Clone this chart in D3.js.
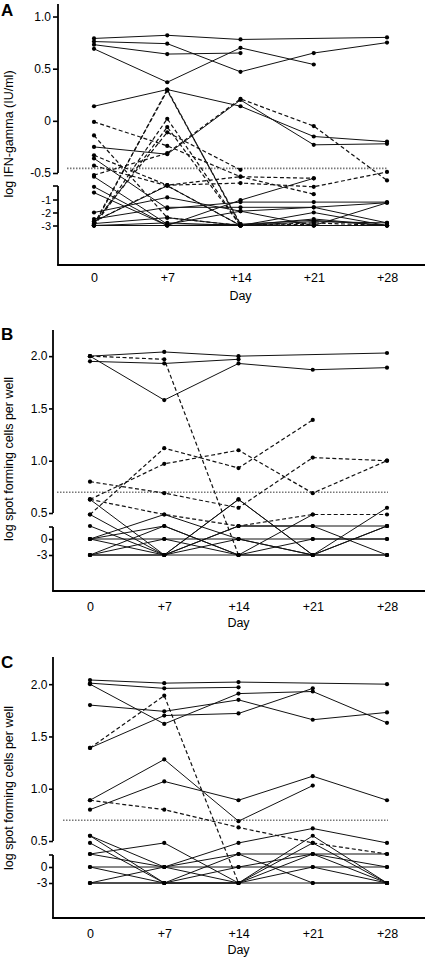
<!DOCTYPE html>
<html><head><meta charset="utf-8">
<script src="https://cdn.jsdelivr.net/npm/d3@7"></script>
<style>body{margin:0;background:#fff} text{font-family:Arial,"Liberation Sans",sans-serif}</style>
</head><body><svg id="c" width="425" height="958"></svg>
<script>
// ---------- DATA ----------
const days = [0, 7, 14, 21, 28];
const dayLabels = ["0", "+7", "+14", "+21", "+28"];

// Panel A: log IFN-gamma (IU/ml)
const seriesA = [
  [0.79, 0.82, 0.78, null, 0.80],
  [0.76, 0.74, 0.47, 0.65, 0.75],
  [0.73, 0.64, 0.65, null, null],
  [0.69, 0.37, 0.70, 0.54, null],
  [0.14, 0.30, 0.14, -0.15, -0.20],
  [-0.25, -0.32, 0.20, -0.23, -0.22],
  [-0.01, -0.24, -0.57, -0.9, null],
  [-0.14, -2.4, -3, null, null],
  [-3, 0.30, -3, -2.8, -3],
  [-2.9, 0.29, -2.9, null, null],
  [-3, 0.02, -3, -2.9, null],
  [-3, -0.06, -3, -3, -3],
  [-2.8, -0.11, -0.47, null, null],
  [-0.54, -0.31, 0.21, -0.05, -0.64],
  [-0.33, -0.73, -0.69, -0.76, -0.49],
  [-0.43, -0.74, -3, null, null],
  [-2.7, -0.73, -0.57, -0.6, null],
  [-0.36, -1.7, -1.2, -1.2, -1.2],
  [-0.76, -3, -1.05, -0.6, null],
  [-0.87, -3, -3, -2.0, -3],
  [-2.0, -0.96, -1.9, -1.6, -1.25],
  [-2.5, -1.6, -1.6, -1.6, -2.8],
  [-2.7, -0.74, -3, -2.5, -3],
  [-2.85, -2.4, -3, -2.7, -2.8],
  [-3, -3, -2.9, -2.6, -3],
  [-3, -2.8, -3, -3, -1.25],
  [-3, -3, -3, -3, -3],
  [-0.57, -2.9, -1.9, -3, null]
];
const dashedA = [0,0,0,0,0,0,1,1,1,1,1,1,1,1,1,1,1,0,0,0,0,0,0,0,0,0,0,0];
const yTicksA = [1.0, 0.5, 0, -0.5, -1, -2, -3];
const yTickLabelsA = ["1.0", "0.5", "0", "-0.5", "-1", "-2", "-3"];
const cutoffA = -0.456;

// Panel B: log spot forming cells per well
const seriesB = [
  [2.0, 2.04, 2.0, null, 2.03],
  [1.95, 1.93, 1.97, null, null],
  [2.0, 1.58, 1.93, 1.87, 1.89],
  [2.0, 1.97, -3, null, null],
  [0.477, 1.12, 0.93, 1.39, null],
  [0.63, 0.97, 1.10, 0.69, 1.0],
  [0.8, 0.69, 0.55, 1.03, 1.0],
  [0.63, 0.477, 0.3, 0.477, 0.477],
  [0.63, -3, 0.63, -3, null],
  [0.477, -3, 0.63, -3, 0.3],
  [0.3, -3, 0.3, 0.3, 0.3],
  [0, 0.477, 0, -3, -3],
  [0, 0.3, -3, 0.477, null],
  [0, 0, 0, 0, 0],
  [-3, 0.3, -3, 0, 0],
  [-3, 0, -3, -3, 0.55],
  [-3, -3, -3, -3, -3],
  [0, -3, 0.3, 0.3, -3],
  [-3, -3, 0, -3, 0.3]
];
const dashedB = [0,0,0,1,1,1,1,1,0,0,0,0,0,0,0,0,0,0,0];
const yTicksB = [2.0, 1.5, 1.0, 0.5, 0, -3];
const yTickLabelsB = ["2.0", "1.5", "1.0", "0.5", "0", "-3"];
const cutoffB = 0.699;

// Panel C: log spot forming cells per well
const seriesC = [
  [2.04, 2.01, 2.02, null, 2.0],
  [2.01, 1.96, 1.97, null, null],
  [2.0, 1.62, 1.91, 1.93, 1.63],
  [1.80, 1.74, 1.85, 1.66, 1.73],
  [1.39, 1.70, 1.72, 1.96, null],
  [1.39, 1.89, -3, null, null],
  [0.89, 1.28, 0.69, 1.03, null],
  [0.80, 1.07, 0.89, 1.12, 0.89],
  [0.89, 0.80, 0.63, 0.47, 0.3],
  [0.55, 0, 0.47, 0.62, 0.47],
  [0.55, -3, -3, 0.55, -3],
  [0.47, -3, 0, 0.3, -3],
  [0.3, 0.47, -3, 0.47, -3],
  [0.3, 0, 0.3, 0.3, 0.3],
  [0, 0, 0, 0, 0],
  [-3, 0, -3, 0.3, 0],
  [-3, -3, -3, -3, -3],
  [0, -3, -3, 0, -3],
  [-3, -3, 0.3, -3, -3]
];
const dashedC = [0,0,0,0,0,1,0,0,1,0,0,0,0,0,0,0,0,0,0];
const yTicksC = yTicksB;
const yTickLabelsC = yTickLabelsB;
const cutoffC = 0.699;

// ---------- LAYOUT ----------
const panels = [
  {letter:"A", letterY:15.5, series:seriesA, dashed:dashedA, ticks:yTicksA, tickLabels:yTickLabelsA, cutoff:cutoffA,
   title:"log IFN-gamma (IU/ml)", titleY:134,
   yDomain:[-6.2,-3,-2,-1,-0.5,1.12], yRange:[265,225.5,212.5,199.5,173,4], breakVal:-0.5, capGap:13,
   axisX:58, x0:94, x28:387, tickLen:5, tickPad:2, xLabOff:12.5, dayY:300, dotStart:67, smallBelow:-0.9},
  {letter:"B", letterY:340, series:seriesB, dashed:dashedB, ticks:yTicksB, tickLabels:yTickLabelsB, cutoff:cutoffB,
   title:"log spot forming cells per well", titleY:459,
   yDomain:[-9.75,-3,0,0.3,0.5,2.25], yRange:[591,555,539,526,513,330], breakVal:0.5, capGap:14,
   axisX:53, x0:90, x28:387, tickLen:4, tickPad:1.5, xLabOff:15.7, dayY:627, dotStart:57, smallBelow:-99},
  {letter:"C", letterY:668, series:seriesC, dashed:dashedC, ticks:yTicksC, tickLabels:yTickLabelsC, cutoff:cutoffC,
   title:"log spot forming cells per well", titleY:788,
   yDomain:[-9.56,-3,0,0.3,0.5,2.26], yRange:[918,883,867,854,841,657], breakVal:0.5, capGap:14,
   axisX:53, x0:90, x28:387, tickLen:4, tickPad:1.5, xLabOff:15.8, dayY:954, dotStart:63, smallBelow:-99}
];

const svg = d3.select("#c");
const FS = 12.5;

panels.forEach(p => {
  const g = svg.append("g");
  const x = d3.scaleLinear().domain([0, 28]).range([p.x0, p.x28]);
  const y = d3.scaleLinear().domain(p.yDomain).range(p.yRange);
  const bottom = p.yRange[0], top = p.yRange[p.yRange.length - 1];
  const breakY = y(p.breakVal);

  // cutoff dotted line
  g.append("line").attr("x1", p.dotStart).attr("x2", x(28) + 1)
    .attr("y1", y(p.cutoff)).attr("y2", y(p.cutoff))
    .attr("stroke", "#777").attr("stroke-width", 1.6).attr("stroke-dasharray", "1.5,1.5");

  // series lines
  const line = d3.line().x(d => x(d.d)).y(d => y(d.v));
  p.series.forEach((s, i) => {
    const pts = days.map((d, j) => ({d, v: s[j]})).filter(o => o.v != null);
    g.append("path").attr("d", line(pts)).attr("fill", "none")
      .attr("stroke", "#111").attr("stroke-width", p.dashed[i] ? 1.2 : 1)
      .attr("stroke-dasharray", p.dashed[i] ? "4,2.5" : null);
  });
  // dots
  p.series.forEach(s => {
    days.forEach((d, j) => {
      if (s[j] == null) return;
      g.append("circle").attr("cx", x(d)).attr("cy", y(s[j])).attr("r", 2.1).attr("fill", "#000");
    });
  });

  // y axis (broken)
  const yAxis = d3.axisLeft(y).tickValues(p.ticks).tickFormat((d, i) => p.tickLabels[i])
    .tickSize(p.tickLen).tickPadding(p.tickPad);
  const ga = g.append("g").attr("transform", `translate(${p.axisX},0)`).call(yAxis);
  ga.select(".domain").remove();
  ga.selectAll(".tick line").attr("stroke", "#000").attr("stroke-width", 1.6);
  ga.selectAll(".tick text").attr("font-size", d => d < p.smallBelow ? 11 : 12).attr("fill", "#000")
    .style("font-family", "Arial, 'Liberation Sans', sans-serif");
  g.append("line").attr("x1", p.axisX).attr("x2", p.axisX).attr("y1", top).attr("y2", breakY)
    .attr("stroke", "#000").attr("stroke-width", 1.8);
  g.append("line").attr("x1", p.axisX).attr("x2", p.axisX).attr("y1", breakY + p.capGap).attr("y2", bottom)
    .attr("stroke", "#000").attr("stroke-width", 1.8);
  g.append("line").attr("x1", p.axisX - p.tickLen).attr("x2", p.axisX)
    .attr("y1", breakY + p.capGap).attr("y2", breakY + p.capGap)
    .attr("stroke", "#000").attr("stroke-width", 1.6);

  // x axis
  g.append("line").attr("x1", p.axisX - 0.9).attr("x2", 425).attr("y1", bottom).attr("y2", bottom)
    .attr("stroke", "#000").attr("stroke-width", 1.8);
  const xAxis = d3.axisBottom(x).tickValues(days).tickFormat((d, i) => dayLabels[i]).tickSize(0).tickPadding(0);
  const gx = g.append("g").attr("transform", `translate(0,${bottom + p.xLabOff})`).call(xAxis);
  gx.select(".domain").remove();
  gx.selectAll(".tick text").attr("font-size", FS).attr("fill", "#000").attr("dy", "0.35em").attr("y", 0)
    .style("font-family", "Arial, 'Liberation Sans', sans-serif");

  g.append("text").attr("x", x(14)).attr("y", p.dayY).attr("text-anchor", "middle")
    .attr("font-size", FS).text("Day");

  // y title
  g.append("text").attr("transform", `translate(12.5,${p.titleY}) rotate(-90)`)
    .attr("text-anchor", "middle").attr("font-size", FS).text(p.title);

  // panel letter
  g.append("text").attr("x", 1).attr("y", p.letterY).attr("font-size", 17)
    .attr("font-weight", "bold").text(p.letter);
});
</script></body></html>
